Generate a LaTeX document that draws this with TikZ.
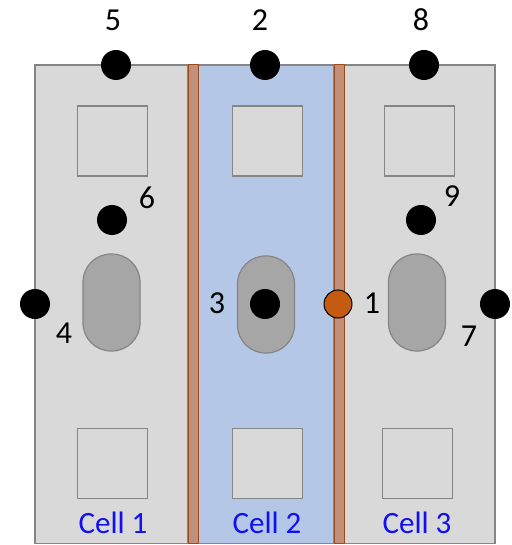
\documentclass[tikz,border=0pt]{standalone}
\usepackage{fontspec}
\setmainfont{Carlito}
\definecolor{cellgray}{HTML}{D9D9D9}
\definecolor{edgegray}{HTML}{858585}
\definecolor{pillgray}{HTML}{A6A6A6}
\definecolor{cellblue}{HTML}{B4C7E7}
\definecolor{wallfill}{HTML}{C0907A}
\definecolor{walledge}{HTML}{9C4A1A}
\definecolor{siteorange}{HTML}{C55A11}
\definecolor{labelblue}{HTML}{1010F0}
\tikzset{
  cellbox/.style = {draw=edgegray, line width=1.5pt, fill=cellgray},
  wallbox/.style = {draw=walledge, line width=1pt, fill=wallfill},
  squarebox/.style = {draw=edgegray, line width=1.5pt, fill=cellgray,
    minimum size=70pt, inner sep=0pt},
  pillbox/.style = {draw=edgegray, line width=1.2pt, fill=pillgray,
    rounded corners=28pt, minimum width=57pt, minimum height=97pt, inner sep=0pt},
  site/.style = {circle, fill=black, minimum size=30pt, inner sep=0pt},
  num/.style = {font=\fontsize{32}{38}\selectfont, inner sep=0pt},
  celltag/.style = {font=\fontsize{31}{37}\selectfont, text=labelblue, inner sep=0pt}
}

\begin{document}
\begin{tikzpicture}[x=1pt,y=-1pt]
  \useasboundingbox (0,0) rectangle (511,545);
  % the three cells and the two walls between them
  \draw[cellbox] (35,65) rectangle (188,543.5);
  \draw[cellbox, fill=cellblue] (198,65) rectangle (334,543.5);
  \draw[cellbox] (344,65) rectangle (495,543.5);
  \draw[wallbox] (188,65) rectangle (198,543.5);
  \draw[wallbox] (334,65) rectangle (344,543.5);
  % squares
  \foreach \X/\N in {112.5/a, 267.5/b, 419.5/c} {
    \node[squarebox] (top\N) at (\X,141) {};
  }
  \node[squarebox] (bota) at (112.5,463.5) {};
  \node[squarebox] (botb) at (267.5,463.5) {};
  \node[squarebox] (botc) at (417.5,463.5) {};
  % pills
  \node[pillbox] (pilla) at (111.5,302.5) {};
  \node[pillbox] (pillb) at (266,304.5) {};
  \node[pillbox] (pillc) at (417,302.5) {};
  % sites
  \node[site] (s5) at (116,65) {};
  \node[site] (s2) at (265,65) {};
  \node[site] (s8) at (424,65) {};
  \node[site] (s6) at (112,220) {};
  \node[site] (s9) at (421,220) {};
  \node[site] (s4) at (35,304) {};
  \node[site] (s3) at (265,304) {};
  \node[site] (s7) at (495,304) {};
  \node[site, fill=siteorange, draw=black, line width=1pt, minimum size=28pt] (s1) at (338,304) {};
  % numbers
  \node[num] (n5) at (113,20) {5};
  \node[num] (n2) at (260,20) {2};
  \node[num] (n8) at (421,20) {8};
  \node[num] (n6) at (147,198) {6};
  \node[num] (n9) at (452,196) {9};
  \node[num] (n4) at (64,333) {4};
  \node[num] (n3) at (217,303) {3};
  \node[num] (n1) at (372,303) {1};
  \node[num] (n7) at (469,336) {7};
  % cell names
  \node[celltag] (c1) at (113,523) {Cell 1};
  \node[celltag] (c2) at (267,523) {Cell 2};
  \node[celltag] (c3) at (417,523) {Cell 3};
\end{tikzpicture}
\end{document}
